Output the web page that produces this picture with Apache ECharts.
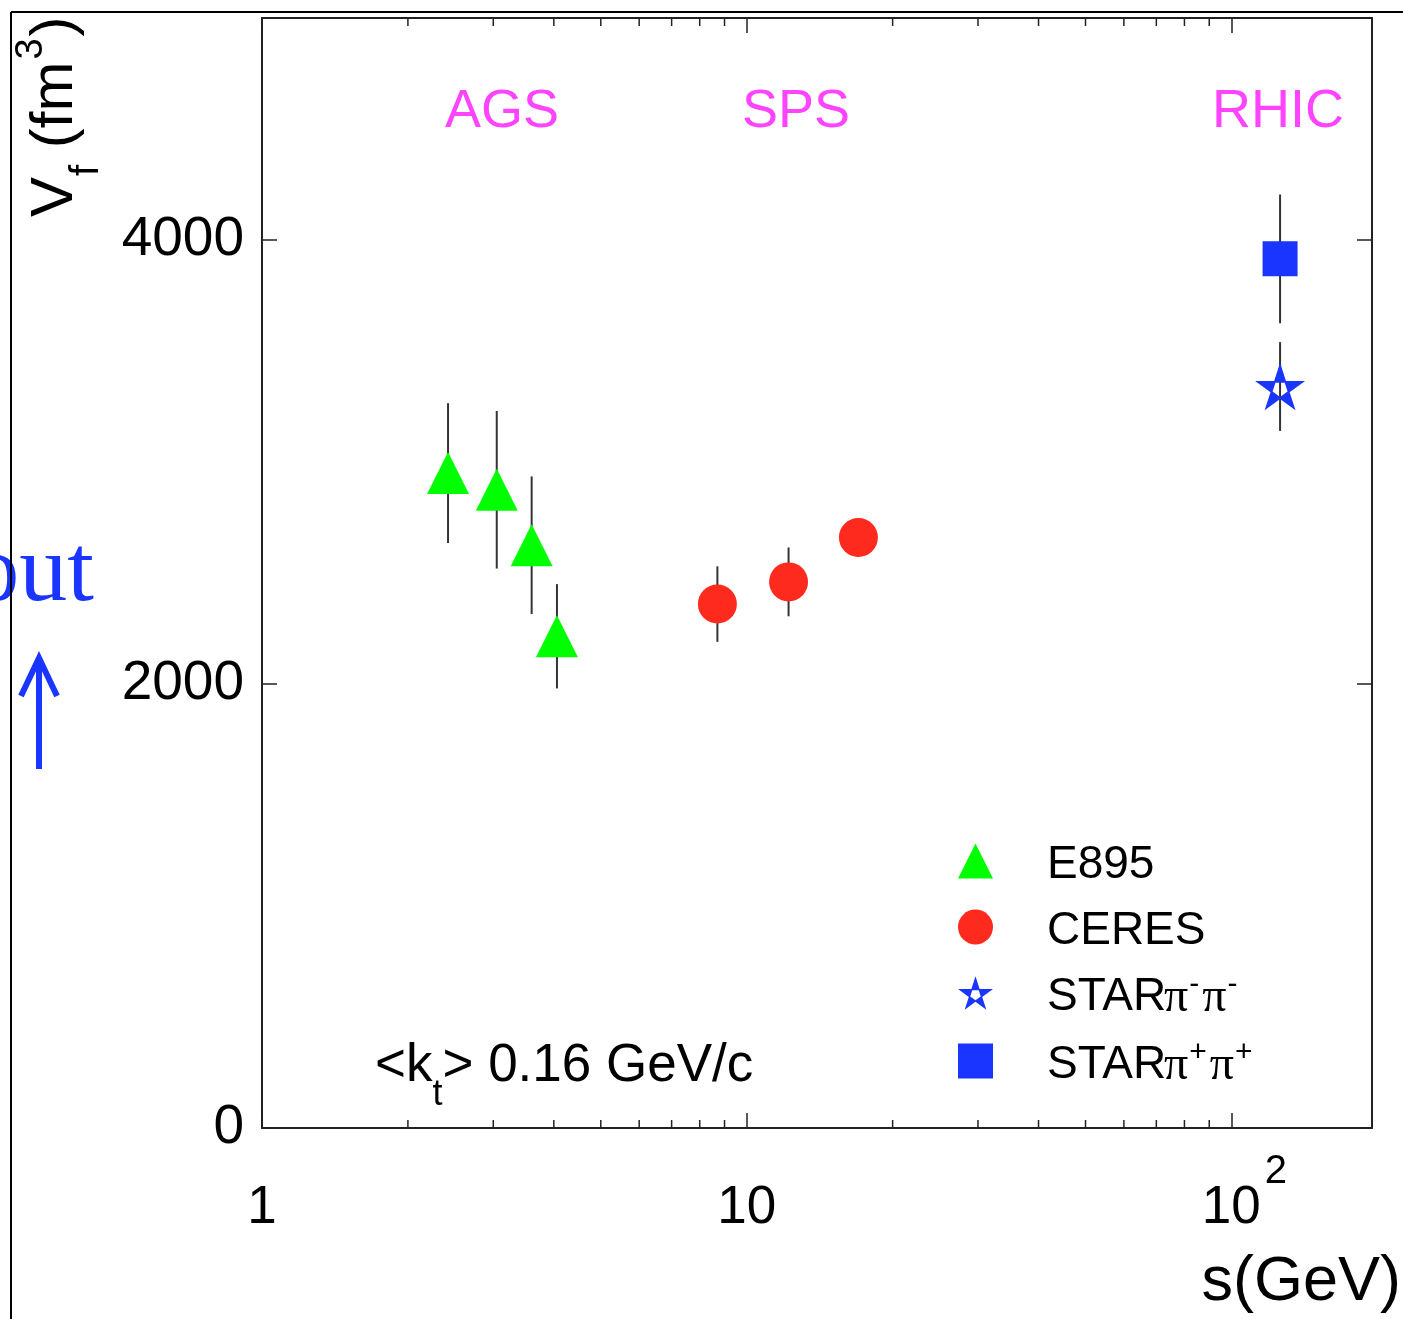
<!DOCTYPE html>
<html>
<head>
<meta charset="utf-8">
<script src="https://cdn.jsdelivr.net/npm/echarts@6/dist/echarts.min.js"></script>
<style>
  html, body { margin: 0; padding: 0; background: #fff; }
  #chart { width: 1403px; height: 1319px; }
</style>
</head>
<body>
<div id="chart"></div>
<script>
// Freeze-out volume V_f versus collision energy, <k_t> = 0.16 GeV/c
const e895Energy = [2.42, 3.05, 3.60, 4.06];
const e895Volume = [2950, 2875, 2625, 2215];
const e895Error = [315, 355, 310, 235];

const ceresEnergy = [8.7, 12.2, 17.0];
const ceresVolume = [2360, 2460, 2660];
const ceresError = [170, 155, 70];

const starMinusEnergy = [126];
const starMinusVolume = [3340];
const starMinusError = [200];

const starPlusEnergy = [126];
const starPlusVolume = [3915];
const starPlusError = [290];

const xRange = [1, 195];
const yRange = [0, 5000];
const yTickStep = 2000;
const xMinorTickValues = [2, 3, 4, 5, 6, 7, 8, 9, 20, 30, 40, 50, 60, 70, 80, 90];

const SANS = '"Liberation Sans", Arial, Helvetica, sans-serif';
const SERIF = '"Liberation Serif", "Times New Roman", serif';
const BLUE = '#1a35ff';
const MAGENTA = '#ff44ff';
const FRAME = '#222';

// open star marker: five-pointed star with a pentagonal hole
function starSymbol() {
  const p = [];
  for (let i = 0; i < 10; i++) {
    const a = (-90 + 36 * i) * Math.PI / 180;
    const r = i % 2 ? 38.2 : 100;
    p.push((i ? 'L' : 'M') + (r * Math.cos(a)).toFixed(2) + ' ' + (r * Math.sin(a)).toFixed(2));
  }
  p.push('Z');
  for (let i = 0; i < 5; i++) {
    const a = (90 - 72 * i) * Math.PI / 180;
    const r = 30;
    p.push((i ? 'L' : 'M') + (r * Math.cos(a)).toFixed(2) + ' ' + (r * Math.sin(a)).toFixed(2));
  }
  p.push('Z');
  return 'path://' + p.join(' ');
}

const pairs = (xs, ys) => xs.map((x, i) => [x, ys[i]]);
const errorBarData = [].concat(
  e895Energy.map((x, i) => [x, e895Volume[i], e895Error[i]]),
  ceresEnergy.map((x, i) => [x, ceresVolume[i], ceresError[i]]),
  starMinusEnergy.map((x, i) => [x, starMinusVolume[i], starMinusError[i]]),
  starPlusEnergy.map((x, i) => [x, starPlusVolume[i], starPlusError[i]])
);

const NAME_E895 = 'E895';
const NAME_CERES = 'CERES';
const NAME_STAR_M = 'STAR π⁻π⁻';
const NAME_STAR_P = 'STAR π⁺π⁺';

const legendRich = {
  n: { fontSize: 46, fontFamily: SANS, color: '#000', lineHeight: 46, padding: [4, 0, 16, 49], verticalAlign: 'top' },
  st: { fontSize: 46, fontFamily: SANS, color: '#000', lineHeight: 46, width: 117, padding: [4, 0, 16, 49], verticalAlign: 'top' },
  pi: { fontSize: 48, fontFamily: SERIF, color: '#000', lineHeight: 46, padding: [4, 0, 16, 0], verticalAlign: 'top' },
  sm: { fontSize: 30, fontFamily: SANS, color: '#000', lineHeight: 16, padding: [0, 3, 0, 1], verticalAlign: 'top' },
  sp: { fontSize: 30, fontFamily: SANS, color: '#000', lineHeight: 10, padding: [0, 3, 0, 1], verticalAlign: 'top' }
};

function legendLabel(name) {
  if (name === NAME_STAR_M) return '{st|STAR}{pi|π}{sm|-}{pi|π}{sm|-}';
  if (name === NAME_STAR_P) return '{st|STAR}{pi|π}{sp|+}{pi|π}{sp|+}';
  return '{n|' + name + '}';
}

const xLabelRich = {
  b: { fontSize: 53, fontFamily: SANS, color: '#000', lineHeight: 60, padding: [30, 0, 0, 0], verticalAlign: 'top' },
  c: { fontSize: 53, fontFamily: SANS, color: '#000', lineHeight: 60, padding: [30, 0, 0, 26], verticalAlign: 'top' },
  s: { fontSize: 40, fontFamily: SANS, color: '#000', lineHeight: 30, padding: [0, 0, 0, 4], verticalAlign: 'top' }
};

function xLabel(v) {
  const e = Math.round(Math.log10(v));
  if (Math.abs(Math.log10(v) - e) > 1e-6) return '';
  if (e === 0) return '{b|1}';
  if (e === 1) return '{b|10}';
  return '{c|10}{s|' + e + '}';
}

function errorBar(params, api) {
  const x = api.value(0), y = api.value(1), e = api.value(2);
  const hi = api.coord([x, y + e]);
  const lo = api.coord([x, y - e]);
  return {
    type: 'line',
    shape: { x1: hi[0], y1: hi[1], x2: lo[0], y2: lo[1] },
    style: { stroke: '#333', lineWidth: 2 }
  };
}

function minorTick(params, api) {
  const c = api.coord([api.value(0), yRange[0]]);
  const cs = params.coordSys;
  const bottom = cs.y + cs.height;
  return {
    type: 'group',
    children: [
      { type: 'line', shape: { x1: c[0], y1: bottom, x2: c[0], y2: bottom - 8 }, style: { stroke: FRAME, lineWidth: 1.5 } },
      { type: 'line', shape: { x1: c[0], y1: cs.y, x2: c[0], y2: cs.y + 8 }, style: { stroke: FRAME, lineWidth: 1.5 } }
    ]
  };
}

const axisLine = { show: true, onZero: false, lineStyle: { color: FRAME, width: 2 } };
const majorTick = { show: true, inside: true, length: 15, lineStyle: { color: FRAME, width: 1.5 } };

const chart = echarts.init(document.getElementById('chart'), null, { renderer: 'canvas' });

chart.setOption({
  animation: false,
  backgroundColor: '#fff',
  grid: { left: 262, right: 31, top: 18, bottom: 191, containLabel: false },
  xAxis: [
    {
      type: 'log', logBase: 10, min: xRange[0], max: xRange[1], position: 'bottom',
      axisLine, axisTick: majorTick, splitLine: { show: false }, minorTick: { show: false },
      axisLabel: { margin: 24, formatter: xLabel, rich: xLabelRich, showMaxLabel: false, showMinLabel: true }
    },
    {
      type: 'log', logBase: 10, min: xRange[0], max: xRange[1], position: 'top',
      axisLine, axisTick: majorTick, splitLine: { show: false }, axisLabel: { show: false }
    }
  ],
  yAxis: [
    {
      type: 'value', min: yRange[0], max: yRange[1], interval: yTickStep, position: 'left',
      axisLine, axisTick: majorTick, splitLine: { show: false },
      axisLabel: { margin: 18, fontSize: 55, fontFamily: SANS, color: '#000', showMaxLabel: false, formatter: v => String(v) }
    },
    {
      type: 'value', min: yRange[0], max: yRange[1], interval: yTickStep, position: 'right',
      axisLine, axisTick: majorTick, splitLine: { show: false }, axisLabel: { show: false }
    }
  ],
  legend: {
    orient: 'vertical', left: 958, top: 838, padding: 0, itemGap: 0,
    itemWidth: 35, itemHeight: 35, selectedMode: false,
    data: [
      { name: NAME_E895 },
      { name: NAME_CERES },
      { name: NAME_STAR_M },
      { name: NAME_STAR_P }
    ],
    formatter: legendLabel,
    textStyle: { rich: legendRich, fontSize: 46, fontFamily: SANS, color: '#000' }
  },
  series: [
    {
      name: 'minor ticks', type: 'custom', renderItem: minorTick, silent: true, clip: false, z: 3,
      data: xMinorTickValues.map(v => [v, yRange[0]])
    },
    {
      name: 'errors', type: 'custom', renderItem: errorBar, silent: true, z: 1,
      encode: { x: 0, y: 1 }, data: errorBarData
    },
    {
      name: NAME_E895, type: 'scatter', symbol: 'triangle', symbolSize: [42, 42], z: 5,
      itemStyle: { color: '#00ff00', opacity: 1 }, data: pairs(e895Energy, e895Volume)
    },
    {
      name: NAME_CERES, type: 'scatter', symbol: 'circle', symbolSize: 39, z: 5,
      itemStyle: { color: '#ff2a1e', opacity: 1 }, data: pairs(ceresEnergy, ceresVolume)
    },
    {
      name: NAME_STAR_M, type: 'scatter', symbol: starSymbol(), symbolSize: [50, 47.6], z: 5,
      itemStyle: { color: BLUE, opacity: 1 }, data: pairs(starMinusEnergy, starMinusVolume)
    },
    {
      name: NAME_STAR_P, type: 'scatter', symbol: 'rect', symbolSize: 35, z: 5,
      itemStyle: { color: BLUE, opacity: 1 }, data: pairs(starPlusEnergy, starPlusVolume)
    }
  ],
  graphic: [
    // outer frame of the page
    { type: 'line', z: 10, shape: { x1: 11, y1: 12, x2: 1403, y2: 12 }, style: { stroke: '#000', lineWidth: 2 } },
    { type: 'line', z: 10, shape: { x1: 11, y1: 12, x2: 11, y2: 1319 }, style: { stroke: '#000', lineWidth: 2 } },
    // y axis title
    {
      type: 'text', x: 12.5, y: 217, rotation: Math.PI / 2,
      style: {
        text: '{v|V}{f|f}{v| (fm}{e|3}{v|)}', align: 'left', verticalAlign: 'top',
        rich: {
          v: { fontSize: 60, fontFamily: SANS, fill: '#000', lineHeight: 60, padding: [12.5, 0, 0, 0], verticalAlign: 'top' },
          f: { fontSize: 40, fontFamily: SANS, fill: '#000', lineHeight: 34, padding: [54, 0, 0, 1], verticalAlign: 'top' },
          e: { fontSize: 38, fontFamily: SANS, fill: '#000', lineHeight: 34, padding: [0, 2, 0, 2], verticalAlign: 'top' }
        }
      }
    },
    // x axis title
    {
      type: 'text', x: 1401, y: 1283,
      style: { text: 's(GeV)', align: 'right', verticalAlign: 'middle', fontSize: 63, fontFamily: SANS, fill: '#000' }
    },
    // accelerator labels
    { type: 'text', x: 445, y: 112, style: { text: 'AGS', align: 'left', verticalAlign: 'middle', fontSize: 54, fontFamily: SANS, fill: MAGENTA } },
    { type: 'text', x: 742, y: 112, style: { text: 'SPS', align: 'left', verticalAlign: 'middle', fontSize: 54, fontFamily: SANS, fill: MAGENTA } },
    { type: 'text', x: 1212, y: 112, style: { text: 'RHIC', align: 'left', verticalAlign: 'middle', fontSize: 54, fontFamily: SANS, fill: MAGENTA } },
    // pair momentum bin
    {
      type: 'text', x: 375, y: 1040,
      style: {
        text: '{n|<k}{t|t}{n|> 0.16 GeV/c}', align: 'left', verticalAlign: 'top',
        rich: {
          n: { fontSize: 53, fontFamily: SANS, fill: '#000', lineHeight: 60, verticalAlign: 'top' },
          t: { fontSize: 36, fontFamily: SANS, fill: '#000', lineHeight: 34, padding: [37, 0, 0, 0], verticalAlign: 'top' }
        }
      }
    },
    // R_out panel marker on the left edge
    { type: 'text', x: 94, y: 575, style: { text: 'out', align: 'right', verticalAlign: 'middle', fontSize: 96, fontFamily: SERIF, fill: BLUE } },
    { type: 'line', shape: { x1: 39, y1: 769, x2: 39, y2: 662 }, style: { stroke: BLUE, lineWidth: 6 } },
    { type: 'polyline', shape: { points: [[21, 696], [39, 658], [57, 696]] }, style: { stroke: BLUE, lineWidth: 6, fill: null, lineJoin: 'miter' } }
  ]
});
</script>
</body>
</html>
